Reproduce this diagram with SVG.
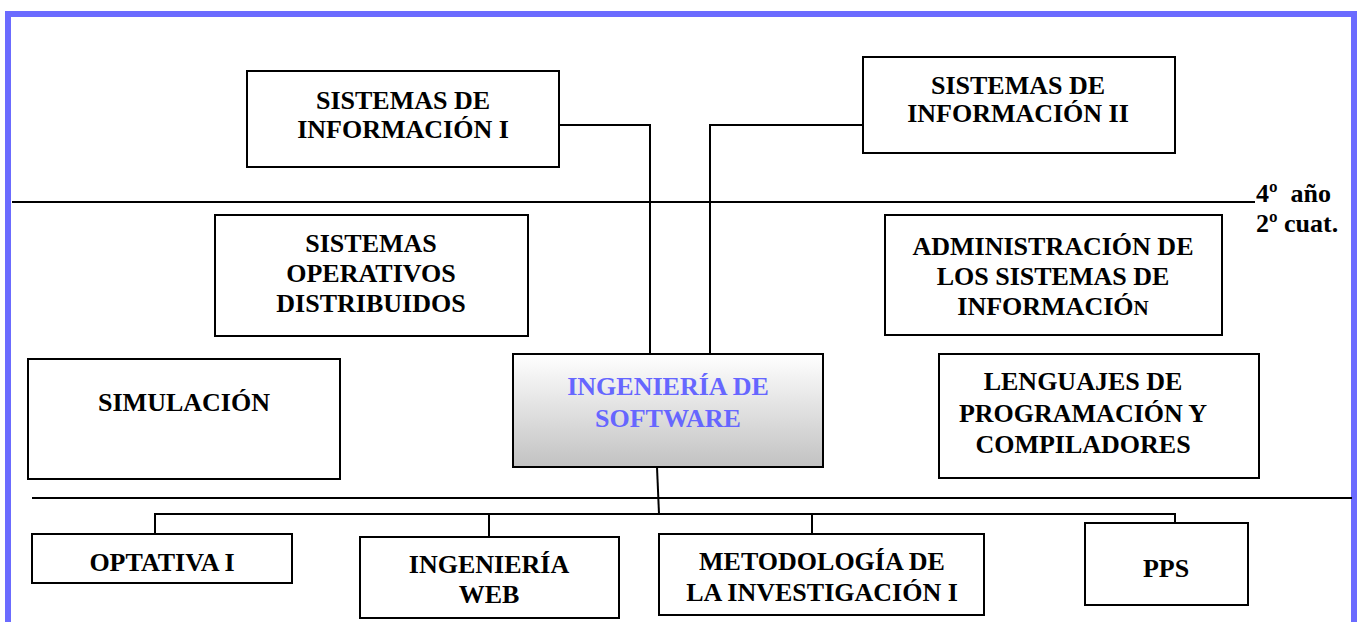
<svg xmlns="http://www.w3.org/2000/svg" width="1363" height="622" viewBox="0 0 1363 622">
  <defs>
    <linearGradient id="grad" x1="0" y1="0" x2="0" y2="1">
      <stop offset="0" stop-color="#ffffff"/>
      <stop offset="1" stop-color="#c2c2c2"/>
    </linearGradient>
  </defs>
  <style>
    .box { fill: #ffffff; stroke: #000000; stroke-width: 2; }
    .lbl { font-family: "Liberation Serif", "Times New Roman", serif; font-weight: bold; font-size: 26px; fill: #000000; text-anchor: middle; }
    .blue { fill: #6666ff; }
    .line { fill: none; stroke: #000000; stroke-width: 2; }
  </style>
  <rect x="0" y="0" width="1363" height="622" fill="#ffffff"/>
  <rect x="8" y="14" width="1346" height="640" fill="none" stroke="#6b6bff" stroke-width="6"/>

  <g id="separators">
    <line class="line" x1="12" y1="202" x2="1255" y2="202"/>
    <line class="line" x1="32" y1="498" x2="1352" y2="498"/>
  </g>

  <g id="connectors">
    <polyline class="line" points="559,125 650,125 650,354"/>
    <polyline class="line" points="863,125 710,125 710,354"/>
    <line class="line" x1="657" y1="467" x2="659" y2="514"/>
    <line class="line" x1="154" y1="514" x2="1176" y2="514"/>
    <line class="line" x1="155" y1="514" x2="155" y2="534"/>
    <line class="line" x1="489" y1="514" x2="489" y2="537"/>
    <line class="line" x1="812" y1="514" x2="812" y2="534"/>
    <line class="line" x1="1175" y1="514" x2="1175" y2="523"/>
  </g>

  <g id="si1">
    <rect class="box" x="247" y="71" width="312" height="96"/>
    <text class="lbl" x="403" y="109">SISTEMAS DE</text>
    <text class="lbl" x="403" y="138">INFORMACIÓN I</text>
  </g>

  <g id="si2">
    <rect class="box" x="863" y="57" width="312" height="96"/>
    <text class="lbl" x="1018" y="94">SISTEMAS DE</text>
    <text class="lbl" x="1018" y="122">INFORMACIÓN II</text>
  </g>

  <g id="year-label">
    <text class="lbl" x="1256" y="202" style="text-anchor:start">4º&#160; año</text>
    <text class="lbl" x="1256" y="232" style="text-anchor:start">2º cuat.</text>
  </g>

  <g id="sod">
    <rect class="box" x="215" y="215" width="313" height="121"/>
    <text class="lbl" x="371" y="252">SISTEMAS</text>
    <text class="lbl" x="371" y="282">OPERATIVOS</text>
    <text class="lbl" x="371" y="312">DISTRIBUIDOS</text>
  </g>

  <g id="asi">
    <rect class="box" x="885" y="215" width="337" height="120"/>
    <text class="lbl" x="1053" y="255">ADMINISTRACIÓN DE</text>
    <text class="lbl" x="1053" y="285">LOS SISTEMAS DE</text>
    <text class="lbl" x="1053" y="315">INFORMACIÓ<tspan style="font-size:21px">N</tspan></text>
  </g>

  <g id="simulacion">
    <rect class="box" x="28" y="359" width="312" height="120"/>
    <text class="lbl" x="184" y="411">SIMULACIÓN</text>
  </g>

  <g id="ingsoft">
    <rect x="513" y="354" width="310" height="113" fill="url(#grad)" stroke="#000000" stroke-width="2"/>
    <text class="lbl blue" x="668" y="395">INGENIERÍA DE</text>
    <text class="lbl blue" x="668" y="427">SOFTWARE</text>
  </g>

  <g id="lpc">
    <rect class="box" x="939" y="354" width="320" height="124"/>
    <text class="lbl" x="1083" y="390">LENGUAJES DE</text>
    <text class="lbl" x="1083" y="422">PROGRAMACIÓN Y</text>
    <text class="lbl" x="1083" y="453">COMPILADORES</text>
  </g>

  <g id="optativa">
    <rect class="box" x="32" y="534" width="260" height="49"/>
    <text class="lbl" x="162" y="571">OPTATIVA I</text>
  </g>

  <g id="ingweb">
    <rect class="box" x="360" y="537" width="259" height="81"/>
    <text class="lbl" x="489" y="573">INGENIERÍA</text>
    <text class="lbl" x="489" y="603">WEB</text>
  </g>

  <g id="metodologia">
    <rect class="box" x="659" y="534" width="325" height="81"/>
    <text class="lbl" x="822" y="570">METODOLOGÍA DE</text>
    <text class="lbl" x="822" y="601">LA INVESTIGACIÓN I</text>
  </g>

  <g id="pps">
    <rect class="box" x="1085" y="523" width="163" height="82"/>
    <text class="lbl" x="1166" y="577">PPS</text>
  </g>
</svg>
